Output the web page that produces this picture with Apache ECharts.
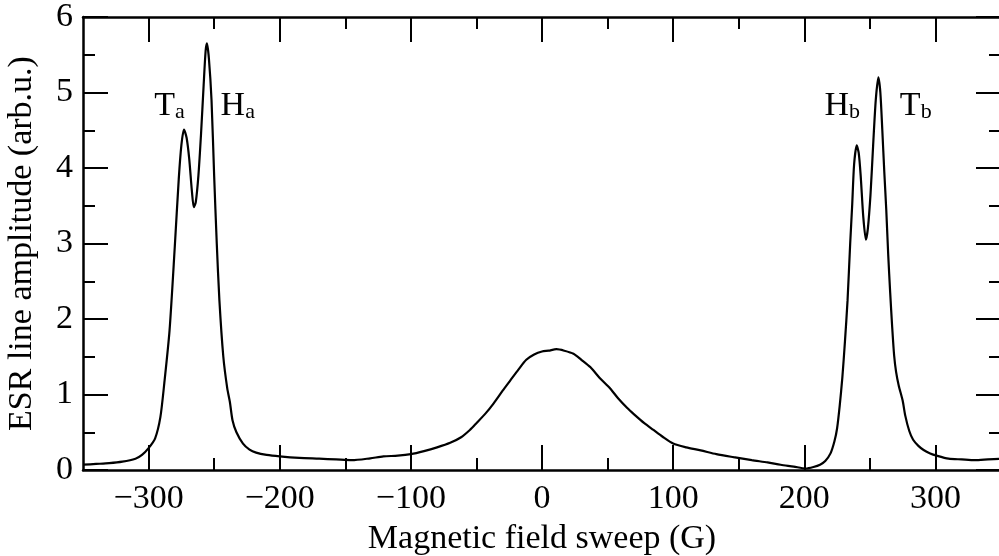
<!DOCTYPE html>
<html>
<head>
<meta charset="utf-8">
<script src="https://cdn.jsdelivr.net/npm/echarts@6/dist/echarts.min.js"></script>
<style>
html, body { margin: 0; padding: 0; background: #fff; }
#main { width: 999px; height: 556px; }
</style>
</head>
<body>
<div id="main"></div>
<script>
// field sweep (G) and ESR amplitude
var fieldG = [-350, -340, -330, -320, -310, -305, -300, -295, -291, -288, -284, -280, -277, -275, -273, -271, -269, -267, -265.5, -264, -262, -260, -258, -256.5, -255.5, -254, -252, -250, -248, -246, -243, -240, -238, -236, -233, -228, -223, -218, -210, -200, -185, -170, -157, -145, -131, -121, -110, -100, -90, -80, -70, -62, -55, -50, -43, -37, -30, -24, -18, -12, -6, 0, 5, 11, 17, 24, 30, 37, 44, 52, 58, 65, 70, 78, 85, 92, 100, 110, 121, 133, 146, 160, 172, 182, 192, 201, 207, 212, 216, 220, 223, 225, 227, 229, 231, 233, 235, 236.5, 238, 240, 241.5, 243, 245, 247, 248.5, 250.5, 252.5, 254.5, 256.5, 258, 259.5, 261, 262.5, 264, 265.5, 267, 268.5, 270, 272, 275, 277, 280, 283, 287, 291, 296, 301, 310, 320, 330, 340, 350];
var amp = [0.07, 0.08, 0.09, 0.11, 0.15, 0.20, 0.29, 0.42, 0.70, 1.15, 1.85, 2.96, 3.85, 4.30, 4.51, 4.40, 4.12, 3.70, 3.48, 3.55, 3.90, 4.45, 5.10, 5.55, 5.65, 5.45, 4.90, 3.90, 3.00, 2.25, 1.50, 1.08, 0.90, 0.66, 0.50, 0.35, 0.27, 0.23, 0.20, 0.18, 0.16, 0.15, 0.14, 0.13, 0.155, 0.18, 0.19, 0.21, 0.25, 0.30, 0.36, 0.43, 0.53, 0.62, 0.75, 0.88, 1.05, 1.19, 1.33, 1.46, 1.53, 1.57, 1.58, 1.60, 1.58, 1.54, 1.46, 1.36, 1.22, 1.08, 0.95, 0.82, 0.74, 0.62, 0.53, 0.44, 0.35, 0.30, 0.26, 0.21, 0.17, 0.13, 0.10, 0.07, 0.045, 0.02, 0.04, 0.07, 0.12, 0.22, 0.38, 0.55, 0.85, 1.22, 1.70, 2.25, 3.00, 3.50, 4.05, 4.30, 4.20, 3.90, 3.35, 3.05, 3.20, 3.65, 4.30, 4.90, 5.20, 5.00, 4.50, 3.95, 3.45, 2.85, 2.35, 1.90, 1.52, 1.30, 1.12, 0.92, 0.72, 0.52, 0.40, 0.32, 0.265, 0.22, 0.19, 0.15, 0.14, 0.13, 0.14, 0.15];

var xMajorTicks = [-300, -200, -100, 0, 100, 200, 300];
var xMinorTicks = [-250, -150, -50, 50, 150, 250];

// peak labels: main letter, subscript, position in data units
var peakMain = ['T', 'H', 'H', 'T'];
var peakSub = ['a', 'a', 'b', 'b'];
var peakX = [-284, -232, 229, 285];
var peakY = [4.82, 4.82, 4.82, 4.82];

var FONT = '"Liberation Serif", "DejaVu Serif", serif';

function buildData() {
	var d = [];
	for (var i = 0; i < fieldG.length; i++) {
		d.push([fieldG[i], amp[i]]);
	}
	return d;
}

function peakLabels() {
	var out = [];
	for (var i = 0; i < peakMain.length; i++) {
		out.push({
			coord: [peakX[i], peakY[i]],
			label: { formatter: '{m|' + peakMain[i] + '}{s|' + peakSub[i] + '}' }
		});
	}
	return out;
}

var lineSt = { color: '#000', width: 2.5 };

function xAxisDef(pos, ticks, len, showLine, showLabel) {
	return {
		type: 'value',
		position: pos,
		min: -350,
		max: 350,
		splitLine: { show: false },
		axisLine: { show: showLine, onZero: false, lineStyle: lineSt },
		axisTick: { show: true, inside: true, length: len, customValues: ticks, lineStyle: { color: '#000', width: 2 } },
		axisLabel: {
			show: showLabel,
			customValues: ticks,
			color: '#000',
			fontFamily: FONT,
			fontSize: 34,
			margin: 12,
			formatter: function(v) { return v < 0 ? '\u2212' + (-v) : String(v); }
		}
	};
}

function yAxisDef(pos, showLabel) {
	return {
		type: 'value',
		position: pos,
		min: 0,
		max: 6,
		interval: 1,
		splitLine: { show: false },
		axisLine: { show: true, onZero: false, lineStyle: lineSt },
		axisTick: { show: true, inside: true, length: 25, lineStyle: { color: '#000', width: 2 } },
		minorTick: { show: true, splitNumber: 2, length: 12, lineStyle: { color: '#000', width: 2 } },
		axisLabel: { show: showLabel, color: '#000', fontFamily: FONT, fontSize: 34, margin: 10 }
	};
}

var chart = echarts.init(document.getElementById('main'), null, { renderer: 'canvas' });

var xb = xAxisDef('bottom', xMajorTicks, 25, true, true);
xb.name = 'Magnetic field sweep (G)';
xb.nameLocation = 'middle';
xb.nameGap = 52;
xb.nameTextStyle = { color: '#000', fontFamily: FONT, fontSize: 34 };

var yl = yAxisDef('left', true);
yl.name = 'ESR line amplitude (arb.u.)';
yl.nameLocation = 'middle';
yl.nameGap = 44;
yl.nameTextStyle = { color: '#000', fontFamily: FONT, fontSize: 34 };

var option = {
	backgroundColor: '#fff',
	animation: false,
	grid: { left: 83, top: 17, width: 918, height: 453, containLabel: false, outerBoundsMode: 'none' },
	xAxis: [
		xb,
		xAxisDef('bottom', xMinorTicks, 12, false, false),
		xAxisDef('top', xMajorTicks, 25, true, false),
		xAxisDef('top', xMinorTicks, 12, false, false)
	],
	yAxis: [
		yl,
		yAxisDef('right', false)
	],
	series: [{
		type: 'line',
		xAxisIndex: 0,
		yAxisIndex: 0,
		data: buildData(),
		showSymbol: false,
		smooth: 0.25,
		lineStyle: { color: '#000', width: 2.2 },
		markPoint: {
			symbol: 'circle',
			symbolSize: 0,
			silent: true,
			label: {
				show: true,
				position: 'inside',
				rich: {
					m: { fontFamily: FONT, fontSize: 34, color: '#000', verticalAlign: 'bottom', lineHeight: 34 },
					s: { fontFamily: FONT, fontSize: 22, color: '#000', verticalAlign: 'bottom', lineHeight: 34 }
				}
			},
			data: peakLabels()
		}
	}]
};

chart.setOption(option);
</script>
</body>
</html>
